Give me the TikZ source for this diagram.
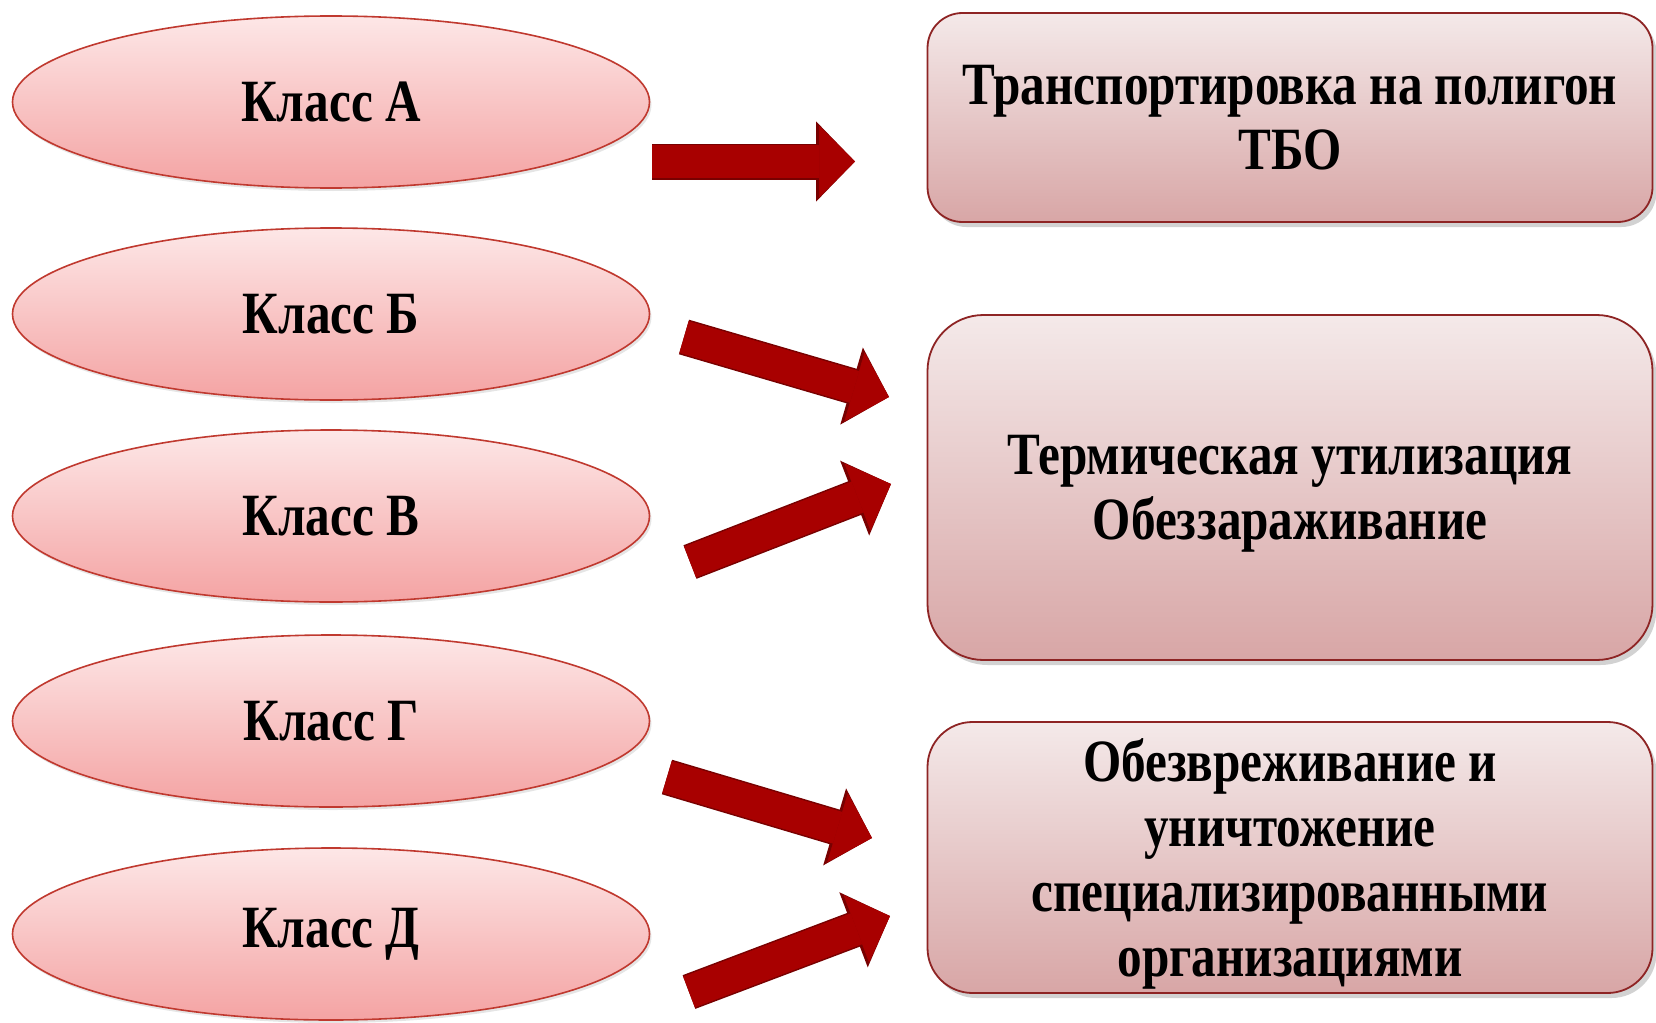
\documentclass[tikz,border=0pt]{standalone}
\usepackage{fontspec}
\setmainfont{Liberation Serif}[FakeStretch=0.82]
\usetikzlibrary{arrows.meta,shadows,shapes.geometric}

\definecolor{ovaltop}{HTML}{FDE7E7}
\definecolor{ovalbot}{HTML}{F4A3A3}
\definecolor{ovaledge}{HTML}{C0392F}
\definecolor{boxtop}{HTML}{F4E9E9}
\definecolor{boxbot}{HTML}{D8A6A6}
\definecolor{boxedge}{HTML}{8E2424}
\definecolor{arrowred}{HTML}{A80000}
\definecolor{arrowedge}{HTML}{780000}

\begin{document}
\begin{tikzpicture}[x=1pt,y=-1pt,
  every node/.style={font=\fontsize{60}{65}\selectfont\bfseries},
  klass/.style={ellipse,draw=ovaledge,line width=1.6pt,top color=ovaltop,bottom color=ovalbot,
    minimum width=637,minimum height=172,inner sep=0pt,
    drop shadow={shadow xshift=2pt,shadow yshift=-3pt,opacity=0.2}},
  metod/.style={draw=boxedge,line width=1.8pt,top color=boxtop,bottom color=boxbot,
    minimum width=725,align=center,text depth=0pt,
    drop shadow={shadow xshift=4pt,shadow yshift=-5pt,opacity=0.35}},
  strelka/.style={draw=arrowred,line width=33pt,
    preaction={draw=arrowedge,line width=36pt,-{Triangle[length=39pt,width=78pt]}},
    -{Triangle[length=36pt,width=72pt,line width=0.5pt,fill=arrowred,color=arrowred]}}]
\useasboundingbox (0,0) rectangle (1656,1022);
\fill[white] (0,0) rectangle (1656,1022);

\foreach \y/\n/\t in {102/a/А,314/b/Б,516/v/В,721/g/Г,934/d/Д}
  \node[klass] (k\n) at (331,\y) {Класс \t};

\node[metod,minimum height=209,rounded corners=35] (m1) at (1290,117.5)
  {Транспортировка на полигон\\ТБО};
\node[metod,minimum height=345,rounded corners=56] (m2) at (1290,487.5)
  {Термическая утилизация\\Обеззараживание};
\node[metod,minimum height=271,rounded corners=45] (m3) at (1290,857.5)
  {Обезвреживание и\\уничтожение\\специализированными\\организациями};

\coordinate (sa1) at (652,161.5);  \coordinate (sa2) at (855,161.5);
\coordinate (sb1) at (684,337);    \coordinate (sb2) at (889,397);
\coordinate (sv1) at (690,562);    \coordinate (sv2) at (891,484);
\coordinate (sg1) at (667,777);    \coordinate (sg2) at (872,838);
\coordinate (sd1) at (689,992);    \coordinate (sd2) at (890,916);

\foreach \n in {a,b,v,g,d} \draw[strelka] (s\n1) -- (s\n2);
\end{tikzpicture}
\end{document}
